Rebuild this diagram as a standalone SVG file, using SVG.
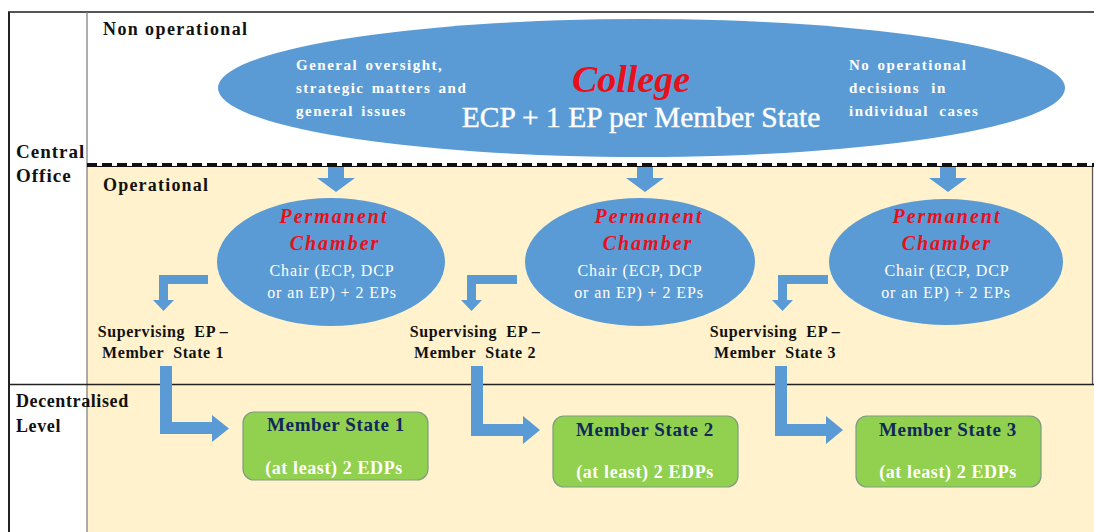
<svg xmlns="http://www.w3.org/2000/svg" width="1094" height="532" viewBox="0 0 1094 532" font-family="'Liberation Serif', 'Times New Roman', serif">
<style>
text{font-family:'Liberation Serif','Times New Roman',serif;}
.lbl{font-weight:bold;fill:#111;}
.big{font-size:19px;letter-spacing:1px;}
.ell{fill:#5B9BD5;}
.blk{fill:#5B9BD5;}
.wt{fill:#fff;}
.red{font-weight:bold;font-style:italic;fill:#E8101A;}
.sup{font-weight:bold;font-size:16px;letter-spacing:0.6px;fill:#111;text-anchor:middle;white-space:pre;}
.box{fill:#92D050;stroke:#7E9C84;stroke-width:1.2;}
.ms{font-weight:bold;font-size:19px;letter-spacing:0.6px;fill:#10285A;text-anchor:middle;}
.edp{font-weight:bold;font-size:18px;letter-spacing:0.6px;fill:#fff;text-anchor:middle;}
.pc1{font-size:20px;letter-spacing:2px;text-anchor:middle;}
.pc2{font-size:16px;letter-spacing:0.9px;text-anchor:middle;}
.side{font-weight:bold;font-size:15px;letter-spacing:1.5px;fill:#fff;word-spacing:2px;}
</style>

<g id="background">
  <rect x="87" y="165" width="1007" height="367" fill="#FFF2CC"/>
  <line x1="8" y1="12" x2="1094" y2="12" stroke="#555" stroke-width="2"/>
  <line x1="9" y1="12" x2="9" y2="532" stroke="#222" stroke-width="2"/>
  <line x1="87" y1="12" x2="87" y2="532" stroke="#777" stroke-width="1.2"/>
  <line x1="1092.5" y1="165" x2="1092.5" y2="384" stroke="#555" stroke-width="1.2"/>
  <line x1="87" y1="166.5" x2="1094" y2="166.5" stroke="#111" stroke-width="1"/>
  <line x1="87" y1="164.5" x2="1094" y2="164.5" stroke="#111" stroke-width="3" stroke-dasharray="10 5"/>
  <line x1="9" y1="384.5" x2="1094" y2="384.5" stroke="#222" stroke-width="1.6"/>
</g>

<g id="row-labels">
  <text class="lbl big" x="103" y="35" style="font-size:18px;letter-spacing:1.4px">Non operational</text>
  <text class="lbl big" x="16" y="158">Central</text>
  <text class="lbl big" x="16" y="182">Office</text>
  <text class="lbl big" x="103" y="191" style="font-size:18px;letter-spacing:1.2px">Operational</text>
  <text class="lbl big" x="16" y="407" style="font-size:18px;letter-spacing:0.6px">Decentralised</text>
  <text class="lbl big" x="16" y="432" style="font-size:18px;letter-spacing:0.6px">Level</text>
</g>

<g id="college">
  <ellipse class="ell" cx="641.5" cy="88" rx="423.5" ry="69"/>
  <text class="red" x="631" y="92" text-anchor="middle" font-size="38">College</text>
  <text class="wt" x="641" y="127" text-anchor="middle" font-size="29.5" stroke="#fff" stroke-width="0.4">ECP + 1 EP per Member State</text>
  <text class="side" x="296" y="70">General oversight,</text>
  <text class="side" x="296" y="93">strategic matters and</text>
  <text class="side" x="296" y="116">general issues</text>
  <text class="side" x="849" y="70">No operational</text>
  <text class="side" x="849" y="93" style="word-spacing:6px">decisions in</text>
  <text class="side" x="849" y="116" style="word-spacing:5px">individual cases</text>
</g>

<g id="chamber-1">
  <ellipse class="ell" cx="331" cy="262" rx="114" ry="64"/>
  <text class="red pc1" x="334" y="223">Permanent</text>
  <text class="red pc1" x="335" y="250">Chamber</text>
  <text class="wt pc2" x="332" y="276">Chair (ECP, DCP</text>
  <text class="wt pc2" x="332" y="298">or an EP) + 2 EPs</text>
</g>
<g id="chamber-2">
  <ellipse class="ell" cx="640" cy="262" rx="115" ry="64"/>
  <text class="red pc1" x="649" y="223">Permanent</text>
  <text class="red pc1" x="648" y="250">Chamber</text>
  <text class="wt pc2" x="640" y="276">Chair (ECP, DCP</text>
  <text class="wt pc2" x="639" y="298">or an EP) + 2 EPs</text>
</g>
<g id="chamber-3">
  <ellipse class="ell" cx="946" cy="262" rx="117" ry="63"/>
  <text class="red pc1" x="947" y="223">Permanent</text>
  <text class="red pc1" x="947" y="250">Chamber</text>
  <text class="wt pc2" x="947" y="276">Chair (ECP, DCP</text>
  <text class="wt pc2" x="946" y="298">or an EP) + 2 EPs</text>
</g>

<g id="supervising-1">
  <text class="sup" x="163" y="337">Supervising  EP –</text>
  <text class="sup" x="163" y="358">Member  State 1</text>
</g>
<g id="supervising-2">
  <text class="sup" x="475" y="337">Supervising  EP –</text>
  <text class="sup" x="475" y="358">Member  State 2</text>
</g>
<g id="supervising-3">
  <text class="sup" x="775" y="337">Supervising  EP –</text>
  <text class="sup" x="775" y="358">Member  State 3</text>
</g>

<g id="member-state-1">
  <rect class="box" x="243" y="412" width="185" height="68" rx="11"/>
  <text class="ms" x="336" y="431">Member State 1</text>
  <text class="edp" x="334" y="474">(at least) 2 EDPs</text>
</g>
<g id="member-state-2">
  <rect class="box" x="553" y="416" width="185" height="71" rx="11"/>
  <text class="ms" x="645" y="436">Member State 2</text>
  <text class="edp" x="645" y="478">(at least) 2 EDPs</text>
</g>
<g id="member-state-3">
  <rect class="box" x="856" y="416" width="185" height="71" rx="11"/>
  <text class="ms" x="948" y="436">Member State 3</text>
  <text class="edp" x="948" y="478">(at least) 2 EDPs</text>
</g>

<g id="connectors">
  <path class="blk" d="M328,167 H344 V178 H355 L336,192 L317,178 H328 Z"/>
  <path class="blk" d="M637,167 H653 V178 H664 L645,192 L626,178 H637 Z"/>
  <path class="blk" d="M940,167 H956 V178 H967 L948,192 L929,178 H940 Z"/>
  <path class="blk" d="M208,275 H159 V300 H153 L163.5,311 L174,300 H168 V284 H208 Z"/>
  <path class="blk" d="M517,275 H467 V300 H461 L471.5,311 L482,300 H476 V284 H517 Z"/>
  <path class="blk" d="M828,275 H778 V300 H772 L782.5,311 L793,300 H787 V284 H828 Z"/>
  <path class="blk" d="M160,366 H172 V422 H212 V415 L229,428.5 L212,442 V434 H160 Z"/>
  <path class="blk" d="M471,366 H483 V424 H523 V416 L540,430 L523,444 V436 H471 Z"/>
  <path class="blk" d="M775,366 H787 V424 H826 V416 L843,430 L826,444 V436 H775 Z"/>
</g>
</svg>
